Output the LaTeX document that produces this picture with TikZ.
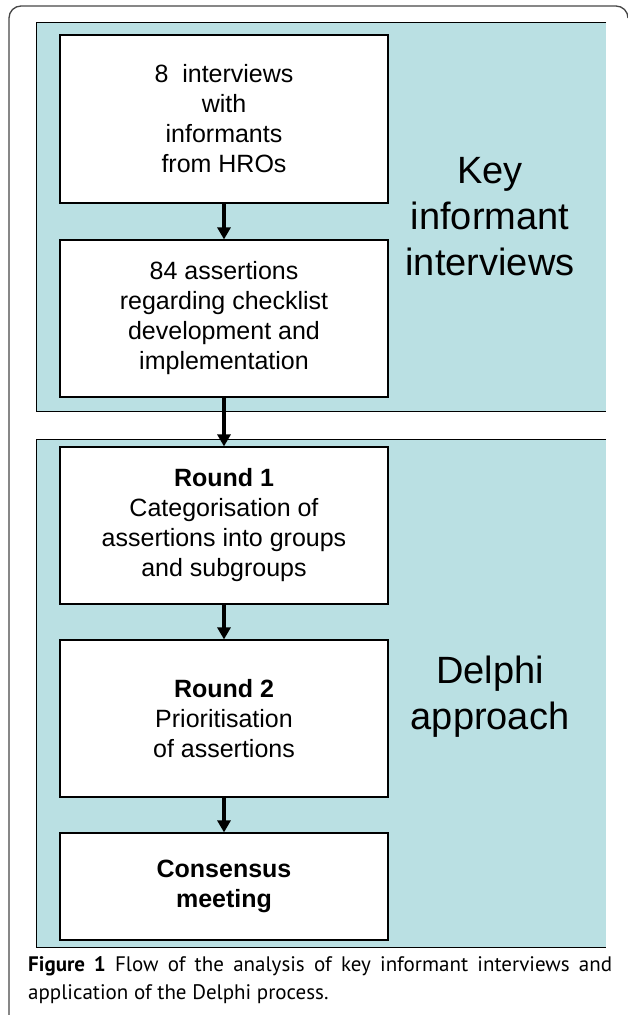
\documentclass[tikz,border=0pt]{standalone}
\usepackage{fontspec}
\setmainfont{Liberation Sans}
\newfontfamily\capfont{PT Sans}
\usetikzlibrary{arrows.meta,positioning}
\definecolor{panelcyan}{RGB}{186,224,227}
\definecolor{framegray}{RGB}{70,70,70}
\tikzset{font=\fontsize{25}{30}\selectfont}
\tikzset{stepbox/.style={draw,fill=white,line width=1.2pt,minimum width=328pt,align=center,inner sep=0pt},
  panel/.style={fill=panelcyan,minimum width=569pt,inner sep=0pt},
  flow/.style={-{Triangle[width=13pt,length=12pt]},line width=3.5pt},
  sidelabel/.style={align=center,font=\fontsize{38}{46}\selectfont},
  figcaption/.style={text width=584pt,align=justify,inner sep=0pt,font=\capfont\fontsize{21}{28}\selectfont}}

\begin{document}
\begin{tikzpicture}[x=1pt,y=1pt]
  \useasboundingbox (0,0) rectangle (627,-1015);
  % frame round the figure
  \draw[framegray,line width=1.3pt] (9,-1015) -- (9,-18) arc[start angle=180,end angle=90,radius=12]
       -- (616,-6) arc[start angle=90,end angle=0,radius=12];
  % the two panels
  \node[panel,minimum height=388pt] (keypanel) at (321.5,-217) {};
  \node[panel,minimum height=507pt] (delphipanel) at (321.5,-693.5) {};
  \foreach \p in {keypanel,delphipanel}{
    \draw[line width=1.2pt] (\p.north east) -- (\p.north west) -- (\p.south west) -- (\p.south east);
  };
  \node[sidelabel] (keylabel) at (490,-217) {Key\\informant\\interviews};
  \node[sidelabel] (delphilabel) at (490,-697) {Delphi\\approach};
  % steps
  \node[stepbox,minimum height=168pt] (interviews) at (224,-119) {8\ \ interviews\\with\\informants\\from HROs};
  \node[stepbox,minimum height=157pt] (assertions) at (224,-318.5) {84 assertions\\regarding checklist\\development and\\implementation};
  \node[stepbox,minimum height=157pt] (roundone) at (224,-525.5) {\textbf{Round 1}\\Categorisation of\\assertions into groups\\and subgroups};
  \node[stepbox,minimum height=157pt] (roundtwo) at (224,-718.5) {\textbf{Round 2}\\Prioritisation\\of assertions};
  \node[stepbox,minimum height=107pt] (consensus) at (224,-886.5) {\textbf{Consensus}\\\textbf{meeting}};
  \draw[flow] (interviews) -- (assertions);
  \draw[flow] (assertions) -- (roundone);
  \draw[flow] (roundone) -- (roundtwo);
  \draw[flow] (roundtwo) -- (consensus);
  % caption
  \node[figcaption,anchor=north west] (figcap) at (28,-956) {\textbf{Figure 1} Flow of the analysis of key informant interviews and\linebreak application of the Delphi process.};
\end{tikzpicture}
\end{document}
